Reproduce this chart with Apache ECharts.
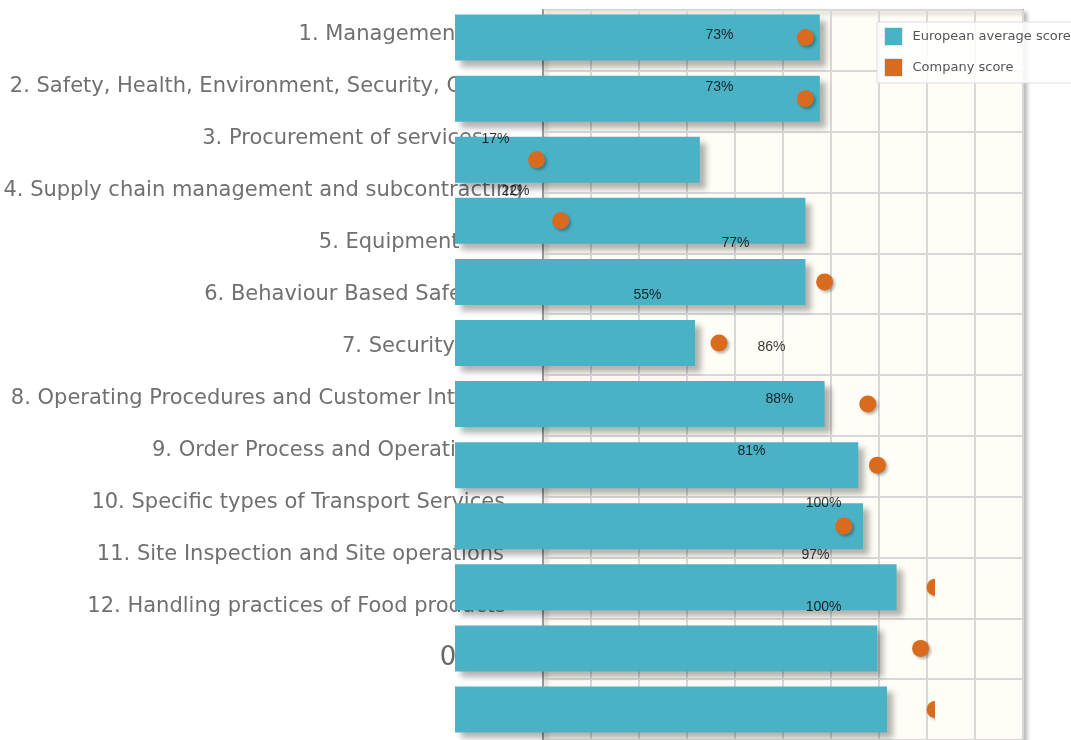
<!DOCTYPE html>
<html lang="en">
<head>
    <meta charset="UTF-8">
    <title>Company score vs European average</title>
    <script src="https://cdn.jsdelivr.net/npm/echarts@6/dist/echarts.min.js"></script>
    <style>
        html, body { margin: 0; padding: 0; background: #fff; }
    </style>
</head>
<body>
    <div id="main" style="width:1071px;height:740px;"></div>
    <script type="text/javascript">
        // chart data
        var categories = [
            '1. Management',
            '2. Safety, Health, Environment, Security, Quality',
            '3. Procurement of services',
            '4. Supply chain management and subcontracting',
            '5. Equipment',
            '6. Behaviour Based Safety',
            '7. Security',
            '8. Operating Procedures and Customer Interface',
            '9. Order Process and Operations',
            '10. Specific types of Transport Services',
            '11. Site Inspection and Site operations',
            '12. Handling practices of Food products'
        ];
        var europeanAvg = [76, 76, 51, 73, 73, 50, 77, 84, 85, 92, 88, 90];
        var companyScore = [73, 73, 17, 22, 77, 55, 86, 88, 81, 100, 97, 100];
        var scoreMin = 0, scoreMax = 100, scoreStep = 10;

        var labelFont = '"DejaVu Sans", Verdana, sans-serif';

        // the tick labels sit a bit off from where they'd normally be; shift each by its width
        var ctx = document.createElement('canvas').getContext('2d');
        ctx.font = '21px ' + labelFont;
        var catLabels = categories.map(function (name) {
            var w = ctx.measureText(name).width;
            return {value: name, textStyle: {padding: [0, Math.max(0, 112 - 0.167 * w), 0, 0]}};
        });

        var scorePoints = companyScore.map(function (v, i) { return [v, i]; });

        var chart = echarts.init(document.getElementById('main'));
        var option = {
            animation: false,
            backgroundColor: '#fff',
            legend: {
                data: ['European average score', 'Company score'],
                orient: 'vertical',
                left: 877,
                top: 22,
                padding: [5, 8, 6, 7],
                itemWidth: 18,
                itemHeight: 18,
                itemGap: 12,
                icon: 'rect',
                backgroundColor: 'rgba(255,255,255,0.85)',
                borderColor: '#dddddd',
                borderWidth: 1,
                itemStyle: {borderColor: '#e6e6e6', borderWidth: 1},
                textStyle: {fontFamily: labelFont, fontSize: 13, color: '#555', padding: [0, 0, 0, 5]}
            },
            grid: [
                {   // plot background
                    left: 543, top: 10, width: 480, height: 748,
                    show: true,
                    backgroundColor: '#fffdf6',
                    borderColor: '#999999',
                    borderWidth: 2,
                    shadowColor: 'rgba(0,0,0,0.25)',
                    shadowBlur: 4,
                    shadowOffsetX: 3,
                    shadowOffsetY: 3
                },
                {   // bars and dots
                    left: 455, top: 7, width: 480, height: 748
                },
                {   // text layer
                    left: 448, top: 9, width: 400, height: 624
                }
            ],
            xAxis: [
                {
                    gridIndex: 0, type: 'value', min: scoreMin, max: scoreMax, interval: scoreStep,
                    axisLine: {show: false}, axisTick: {show: false}, axisLabel: {show: false},
                    splitLine: {lineStyle: {color: '#d8d8d8', width: 2}}
                },
                {
                    gridIndex: 1, type: 'value', min: scoreMin, max: scoreMax, show: false
                },
                {
                    gridIndex: 2, type: 'value', min: scoreMin, max: scoreMax, interval: scoreStep,
                    axisLine: {show: false}, axisTick: {show: false}, splitLine: {show: false},
                    axisLabel: {margin: 12, fontFamily: labelFont, fontSize: 26, color: '#666'}
                }
            ],
            yAxis: [
                {
                    gridIndex: 0, type: 'category', inverse: true, data: categories,
                    axisLine: {lineStyle: {color: '#999', width: 2}},
                    axisTick: {length: 5, lineStyle: {color: '#999', width: 2}},
                    axisLabel: {show: false},
                    splitLine: {show: true, lineStyle: {color: '#d8d8d8', width: 2}}
                },
                {
                    gridIndex: 1, type: 'category', inverse: true, data: categories, show: false
                },
                {
                    gridIndex: 2, type: 'category', inverse: true, data: catLabels,
                    axisLine: {show: false}, axisTick: {show: false}, splitLine: {show: false},
                    axisLabel: {margin: -100, align: 'right', fontFamily: labelFont, fontSize: 21, color: '#707070'}
                }
            ],
            series: [
                {
                    name: 'European average score',
                    type: 'bar',
                    xAxisIndex: 1, yAxisIndex: 1,
                    barWidth: 46,
                    itemStyle: {
                        color: '#4bb2c5',
                        shadowColor: 'rgba(0,0,0,0.3)',
                        shadowBlur: 6,
                        shadowOffsetX: 6,
                        shadowOffsetY: 6
                    },
                    data: europeanAvg
                },
                {
                    // custom so the dots get cut at the plot edge
                    name: 'Company score',
                    type: 'custom',
                    xAxisIndex: 1, yAxisIndex: 1,
                    z: 3,
                    clip: true,
                    itemStyle: {color: '#d96b1e'},
                    renderItem: function (params, api) {
                        var pt = api.coord([api.value(0), api.value(1)]);
                        return {
                            type: 'circle',
                            shape: {cx: pt[0], cy: pt[1], r: 8.5},
                            style: {
                                fill: '#d96b1e',
                                shadowColor: 'rgba(0,0,0,0.3)',
                                shadowBlur: 3,
                                shadowOffsetX: 2,
                                shadowOffsetY: 2
                            }
                        };
                    },
                    encode: {x: 0, y: 1},
                    data: scorePoints
                },
                {
                    name: 'score labels',
                    type: 'scatter',
                    xAxisIndex: 2, yAxisIndex: 2,
                    z: 5,
                    symbolSize: 1,
                    clip: false,
                    itemStyle: {color: 'rgba(0,0,0,0)'},
                    label: {
                        show: true,
                        position: 'left',
                        distance: 6,
                        fontFamily: '"Liberation Sans", Arial, sans-serif',
                        fontSize: 14,
                        color: '#000',
                        formatter: function (p) { return p.value[0] + '%'; }
                    },
                    data: scorePoints
                }
            ]
        };
        chart.setOption(option);
    </script>
</body>
</html>
